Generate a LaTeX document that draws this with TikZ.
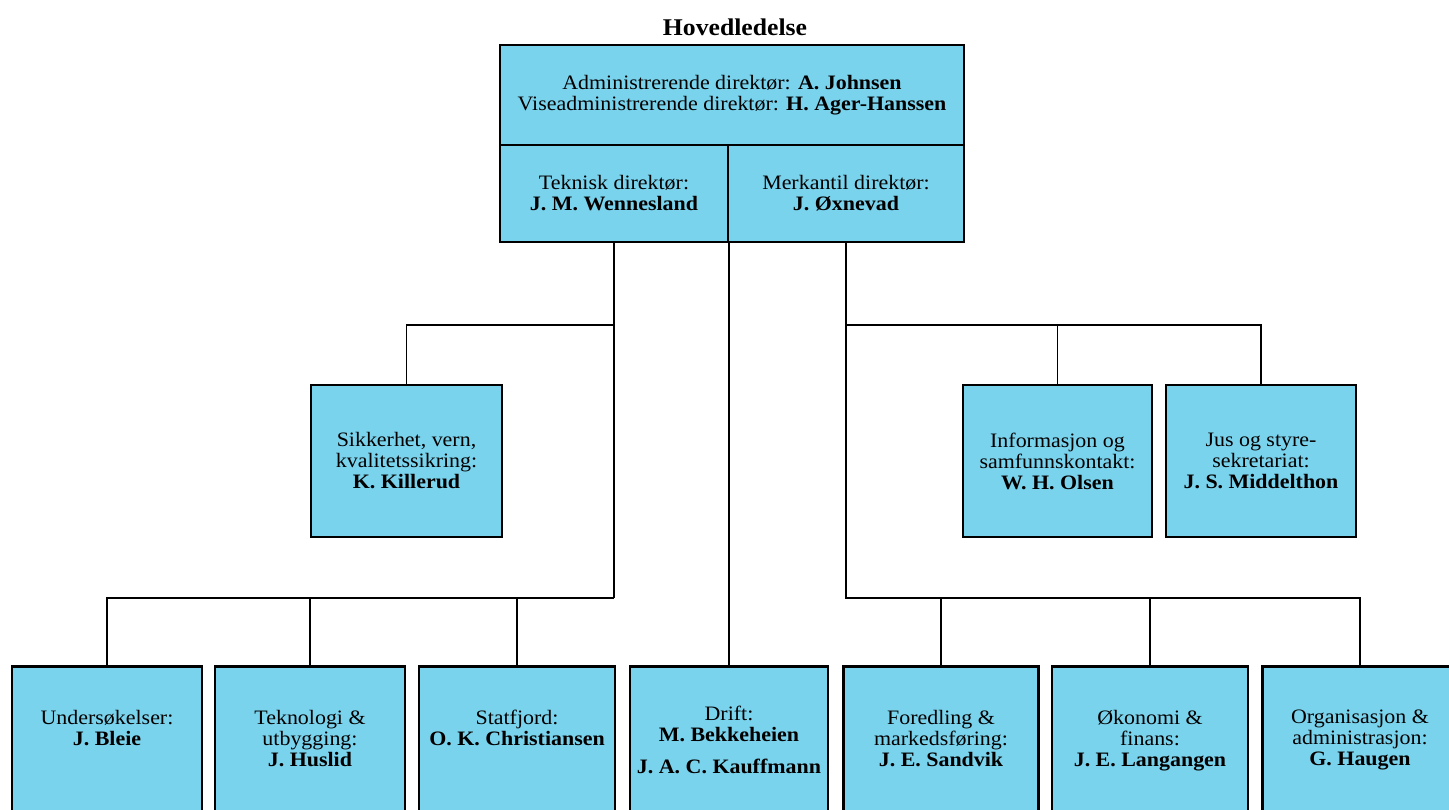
\documentclass[tikz,border=0pt]{standalone}
\usepackage{fontspec}
\setmainfont[FakeStretch=1.07]{Liberation Serif}
\usetikzlibrary{calc}
\definecolor{orgblue}{RGB}{122,211,237}

\begin{document}
\begin{tikzpicture}[x=1pt,y=-1pt,font=\fontsize{20.5}{21}\selectfont]
\tikzstyle{box}=[draw,line width=2.5pt,fill=orgblue, rectangle, align=center, inner sep=0pt]
\tikzstyle{line}=[line width=1.3pt]
\tikzstyle{boxtext}=[anchor=north, align=center, inner sep=0pt]
\useasboundingbox (0,0) rectangle (1449,810);
\clip (0,0) rectangle (1449,810);

% Hovedledelse

\node[font=\fontsize{24}{25}\selectfont\bfseries] (title) at (735,27) {Hovedledelse};
\node[box, minimum width=464, minimum height=100] (adm) at (732,95) {Administrerende direktør: \textbf{A. Johnsen}\\Viseadministrerende direktør: \textbf{H. Ager-Hanssen}};
\node[box, minimum width=228, minimum height=97] (tek) at (614,193.5) {Teknisk direktør:\\\textbf{J. M. Wennesland}};
\node[box, minimum width=236, minimum height=97] (merk) at (846,193.5) {Merkantil direktør:\\\textbf{J. Øxnevad}};

% staber
\node[box, minimum width=191, minimum height=152] (sik) at (406.5,461) {Sikkerhet, vern,\\kvalitetssikring:\\\textbf{K. Killerud}};
\node[box, minimum width=189, minimum height=152] (info) at (1057.5,461) {Informasjon og\\samfunnskontakt:\\\textbf{W. H. Olsen}};
\node[box, minimum width=190, minimum height=152] (jus) at (1261,461) {Jus og styre-\\sekretariat:\\\textbf{J. S. Middelthon}};

% linjeavdelinger (boksene går ut over kanten)
\node[box, anchor=north, minimum width=190, minimum height=200] (und) at (107,665) {};
\node[box, anchor=north, minimum width=190, minimum height=200] (tekn) at (310,665) {};
\node[box, anchor=north, minimum width=196, minimum height=200] (stat) at (517,665) {};
\node[box, anchor=north, minimum width=198, minimum height=200] (drift) at (729,665) {};
\node[box, anchor=north, minimum width=195, minimum height=200] (fored) at (941,665) {};
\node[box, anchor=north, minimum width=196, minimum height=200] (okon) at (1150,665) {};
\node[box, anchor=north, minimum width=195, minimum height=200] (org) at (1360,665) {};

\node[boxtext] (undtext) at ($(und.north)+(0,45)$) {Undersøkelser:\\\textbf{J. Bleie}};
\node[boxtext] (tekntext) at ($(tekn.north)+(0,45)$) {Teknologi \&\\utbygging:\\\textbf{J. Huslid}};
\node[boxtext] (stattext) at ($(stat.north)+(0,45)$) {Statfjord:\\\textbf{O. K. Christiansen}};
\node[boxtext] (drifttext) at ($(drift.north)+(0,41)$) {Drift:\\\textbf{M. Bekkeheien}\\[11pt]\textbf{J. A. C. Kauffmann}};
\node[boxtext] (foredtext) at ($(fored.north)+(0,45)$) {Foredling \&\\markedsføring:\\\textbf{J. E. Sandvik}};
\node[boxtext] (okontext) at ($(okon.north)+(0,45)$) {Økonomi \&\\finans:\\\textbf{J. E. Langangen}};
\node[boxtext] (orgtext) at ($(org.north)+(0,45)$) {Organisasjon \&\\administrasjon:\\\textbf{G. Haugen}};

% linjer, teknisk side
\coordinate (ljoin) at (614,325);
\coordinate (lbus) at (614,598);
\draw[line] (tek.south) -- (lbus);
\draw[line] (ljoin) -| (sik.north);
\draw[line] (lbus) -| (und.north);
\draw[line] (tekn.north) -- (tekn.north |- lbus);
\draw[line] (stat.north) -- (stat.north |- lbus);

% linje til drift
\draw[line] (drift.north) -- (drift.north |- tek.south);

% linjer, merkantil side
\draw[line] (merk.south) -- (merk.south |- lbus) -| (org.north);
\draw[line] (merk.south |- ljoin) -| (jus.north);
\draw[line] (info.north) -- (info.north |- ljoin);
\draw[line] (fored.north) -- (fored.north |- lbus);
\draw[line] (okon.north) -- (okon.north |- lbus);

\end{tikzpicture}
\end{document}
